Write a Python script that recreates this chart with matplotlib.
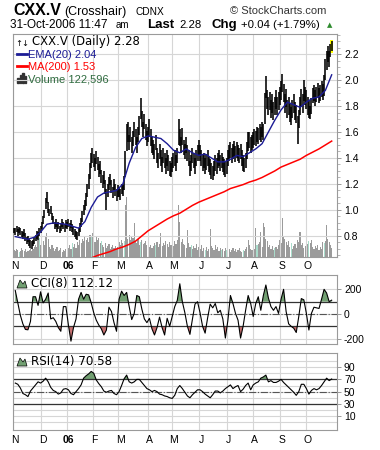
import numpy as np
import pandas as pd
import matplotlib
matplotlib.use('Agg')
import matplotlib.pyplot as plt
from matplotlib.patches import Rectangle, Polygon
from matplotlib.lines import Line2D
from matplotlib.transforms import blended_transform_factory

plt.rcParams['font.family'] = ['Liberation Sans', 'DejaVu Sans']

# sessions shown on the chart (exchange holidays removed)
holidays = ['2005-12-26', '2005-12-27', '2006-01-02', '2006-04-14', '2006-05-22',
            '2006-07-03', '2006-08-07', '2006-09-04', '2006-10-09']
days = pd.bdate_range('2005-11-01', '2006-10-31', freq='C', holidays=holidays)

# daily high / low, one row per month
highs = [
    0.86, 0.86, 0.88, 0.85, 0.87, 0.86, 0.84, 0.83, 0.85, 0.82, 0.79, 0.80, 0.78, 0.77, 0.76, 0.77, 0.79, 0.81, 0.84, 0.83, 0.86, 0.88,
    0.91, 0.95, 1.00, 1.09, 1.14, 1.06, 1.01, 1.03, 0.98, 0.95, 0.91, 0.93, 0.89, 0.91, 0.88, 0.90, 0.93, 0.91, 0.89, 0.92,
    0.91, 0.93, 0.90, 0.92, 0.89, 0.87, 0.85, 0.84, 0.83, 0.86, 0.90, 0.94, 0.99, 1.04, 1.08, 1.13, 1.20, 1.28, 1.36, 1.44, 1.48,
    1.43, 1.40, 1.45, 1.41, 1.35, 1.38, 1.31, 1.27, 1.30, 1.23, 1.16, 1.20, 1.25, 1.28, 1.23, 1.18, 1.24, 1.20, 1.16, 1.19,
    1.18, 1.16, 1.20, 1.19, 1.26, 1.45, 1.66, 1.68, 1.58, 1.64, 1.56, 1.61, 1.68, 1.62, 1.56, 1.64, 1.72, 1.86, 1.76, 1.68, 1.74, 1.66, 1.61,
    1.64, 1.70, 1.62, 1.56, 1.54, 1.51, 1.58, 1.48, 1.44, 1.51, 1.46, 1.41, 1.48, 1.44, 1.40, 1.46, 1.42, 1.38, 1.36,
    1.41, 1.44, 1.46, 1.42, 1.48, 1.70, 1.62, 1.56, 1.63, 1.54, 1.51, 1.56, 1.50, 1.46, 1.38, 1.42, 1.48, 1.44, 1.40, 1.46, 1.50, 1.54,
    1.50, 1.46, 1.42, 1.44, 1.40, 1.43, 1.46, 1.41, 1.39, 1.36, 1.34, 1.38, 1.42, 1.40, 1.44, 1.46, 1.42, 1.44, 1.41, 1.39, 1.37, 1.40,
    1.46, 1.50, 1.52, 1.48, 1.51, 1.53, 1.49, 1.52, 1.50, 1.48, 1.51, 1.46, 1.42, 1.40, 1.44, 1.52, 1.60, 1.60, 1.56, 1.58,
    1.60, 1.62, 1.61, 1.64, 1.63, 1.66, 1.64, 1.68, 1.66, 1.90, 2.03, 1.92, 1.87, 1.91, 1.85, 1.89, 1.83, 1.87, 1.92, 1.87, 1.91, 1.95,
    1.99, 2.05, 1.97, 1.89, 1.93, 1.85, 1.87, 1.82, 1.79, 1.85, 1.89, 1.83, 1.81, 1.72, 1.77, 1.87, 1.93, 1.89, 2.00, 1.95,
    1.92, 1.87, 1.85, 1.80, 1.86, 1.94, 1.96, 1.92, 1.95, 1.98, 1.94, 1.96, 1.99, 1.97, 2.04, 2.16, 2.22, 2.26, 2.22, 2.28, 2.30,
]
lows = [
    0.82, 0.81, 0.83, 0.80, 0.82, 0.81, 0.79, 0.78, 0.80, 0.76, 0.74, 0.75, 0.72, 0.71, 0.70, 0.72, 0.74, 0.76, 0.78, 0.77, 0.80, 0.82,
    0.85, 0.89, 0.94, 1.01, 1.05, 0.98, 0.95, 0.97, 0.92, 0.89, 0.85, 0.87, 0.83, 0.85, 0.82, 0.84, 0.87, 0.85, 0.83, 0.86,
    0.85, 0.87, 0.84, 0.86, 0.83, 0.81, 0.79, 0.78, 0.77, 0.80, 0.83, 0.87, 0.91, 0.96, 1.00, 1.03, 1.10, 1.16, 1.24, 1.32, 1.36,
    1.33, 1.30, 1.35, 1.31, 1.25, 1.28, 1.21, 1.17, 1.20, 1.12, 1.00, 1.10, 1.15, 1.19, 1.13, 1.09, 1.15, 1.11, 1.07, 1.10,
    1.10, 1.08, 1.12, 1.11, 1.15, 1.25, 1.45, 1.52, 1.46, 1.52, 1.44, 1.49, 1.56, 1.50, 1.44, 1.52, 1.58, 1.70, 1.64, 1.56, 1.62, 1.54, 1.49,
    1.52, 1.56, 1.49, 1.44, 1.42, 1.39, 1.46, 1.36, 1.32, 1.39, 1.34, 1.29, 1.36, 1.32, 1.28, 1.34, 1.30, 1.26, 1.25,
    1.29, 1.32, 1.34, 1.30, 1.36, 1.50, 1.49, 1.44, 1.50, 1.42, 1.39, 1.44, 1.38, 1.34, 1.26, 1.30, 1.36, 1.32, 1.28, 1.34, 1.38, 1.42,
    1.38, 1.34, 1.30, 1.32, 1.28, 1.31, 1.34, 1.29, 1.27, 1.24, 1.23, 1.26, 1.30, 1.28, 1.32, 1.34, 1.30, 1.32, 1.29, 1.27, 1.25, 1.28,
    1.34, 1.38, 1.40, 1.36, 1.39, 1.41, 1.37, 1.40, 1.38, 1.36, 1.39, 1.34, 1.30, 1.29, 1.32, 1.39, 1.45, 1.48, 1.44, 1.46,
    1.48, 1.50, 1.49, 1.52, 1.51, 1.54, 1.52, 1.56, 1.54, 1.66, 1.86, 1.78, 1.73, 1.77, 1.71, 1.75, 1.69, 1.73, 1.78, 1.73, 1.77, 1.81,
    1.85, 1.91, 1.83, 1.75, 1.79, 1.71, 1.73, 1.68, 1.65, 1.71, 1.75, 1.69, 1.67, 1.51, 1.63, 1.73, 1.79, 1.75, 1.84, 1.81,
    1.78, 1.73, 1.71, 1.70, 1.74, 1.82, 1.84, 1.80, 1.83, 1.86, 1.82, 1.84, 1.87, 1.85, 1.88, 2.00, 2.08, 2.14, 2.10, 2.18, 2.22,
]
# volume in thousands of shares
volume = [
    95, 80, 110, 95, 70, 80, 120, 95, 80, 110, 70, 80, 95, 120, 80, 110, 135, 165, 135, 230, 260, 165,
    190, 220, 165, 270, 330, 245, 135, 110, 165, 120, 80, 110, 135, 80, 95, 120, 70, 95, 80, 110,
    95, 120, 165, 110, 190, 135, 175, 120, 205, 165, 230, 190, 245, 220, 270, 230, 260, 205, 300, 270, 330,
    245, 205, 270, 230, 260, 190, 220, 165, 135, 190, 120, 150, 175, 110, 135, 165, 120, 150, 110, 135,
    205, 165, 230, 190, 220, 705, 815, 245, 300, 230, 270, 260, 460, 220, 190, 245, 165, 205, 230, 175, 190, 220, 165,
    175, 135, 165, 120, 150, 190, 165, 205, 135, 175, 330, 150, 190, 165, 220, 175, 135, 205, 165,
    190, 150, 220, 175, 230, 705, 475, 205, 245, 175, 165, 120, 365, 190, 135, 165, 110, 150, 120, 175, 95, 135,
    110, 165, 80, 120, 95, 135, 80, 110, 380, 150, 120, 95, 165, 110, 135, 80, 120, 95, 110, 80, 120, 95,
    80, 110, 70, 95, 120, 80, 110, 70, 95, 120, 80, 70, 95, 80, 110, 135, 230, 165, 110, 95,
    120, 110, 395, 165, 175, 205, 340, 135, 460, 410, 245, 220, 135, 165, 110, 150, 95, 120, 135, 110, 165, 230,
    190, 530, 270, 245, 205, 165, 220, 135, 190, 110, 150, 175, 120, 230, 205, 340, 165, 190, 120, 150,
    205, 175, 220, 190, 230, 135, 110, 150, 120, 165, 95, 135, 110, 205, 190, 220, 435, 245, 205, 165, 122.6,
]
teal_days = [4, 20, 46, 61, 69, 87, 100, 112, 140, 151, 164, 168, 181, 192, 206, 219, 233, 245]

# EMA(20), read every 5th session starting at the 2nd one
ema20 = [0.795, 0.785, 0.775, 0.79, 0.83, 0.89, 0.90, 0.895, 0.89, 0.875,
         0.86, 0.91, 1.02, 1.10, 1.13, 1.14, 1.15, 1.20, 1.36, 1.48,
         1.55, 1.57, 1.56, 1.55, 1.51, 1.46, 1.44, 1.47, 1.44, 1.42,
         1.43, 1.40, 1.37, 1.37, 1.39, 1.42, 1.41, 1.44, 1.47, 1.51,
         1.60, 1.69, 1.77, 1.83, 1.81, 1.79, 1.83, 1.86, 1.87, 1.92,
         2.04]
# MA(200), every 5th session from late January
ma200 = [0.63, 0.65, 0.665, 0.68, 0.70, 0.715, 0.735, 0.76, 0.80, 0.84,
         0.87, 0.90, 0.93, 0.955, 0.975, 1.005, 1.035, 1.06, 1.08, 1.10,
         1.12, 1.14, 1.165, 1.18, 1.195, 1.215, 1.23, 1.25, 1.275, 1.30,
         1.33, 1.35, 1.37, 1.39, 1.42, 1.445, 1.47, 1.50, 1.53]
# oscillators, every 2nd session
cci8 = [190, 90, -10, -80, -125, -128, -60, 140, 140, 70,
        180, 90, 120, 170, -40, -30, -60, -110, -140, 60,
        60, -90, -220, -110, -40, 120, 175, 120, 160, 155,
        90, 10, -50, -90, -120, -170, -130, 55, 20, -70,
        -140, 120, 185, 150, 175, 60, -45, 5, 150, 140,
        40, -40, -70, -35, -120, -170, -110, -25, -110, -170,
        -35, -100, -20, 60, 110, 245, 100, 10, -100, -165,
        -40, 80, 100, 10, -100, -155, -30, 80, 50, 85,
        10, 30, -40, -195, -50, 150, 85, 5, -50, -195,
        -100, 30, 150, 85, -20, 85, 140, 30, 150, 235,
        130, 60, 30, 60, 5, 120, 200, 20, -80, -100,
        -115, -150, -20, 125, 115, 5, -130, 5, 55, 50,
        45, 120, 200, 170, 100, 112.12]
rsi14 = [64, 62, 56, 47, 45, 42, 51, 56, 61, 66,
         64, 67, 72, 66, 57, 52, 50, 46, 48, 54,
         55, 53, 47, 45, 50, 55, 61, 72, 76, 79,
         83, 80, 69, 63, 58, 51, 49, 51, 52, 47,
         45, 50, 60, 71, 77, 66, 64, 66, 70, 70,
         65, 60, 55, 53, 50, 52, 50, 46, 45, 43,
         42, 40, 39, 44, 55, 60, 55, 49, 43, 40,
         45, 49, 53, 53, 50, 46, 43, 40, 45, 51,
         51, 48, 51, 55, 58, 61, 55, 58, 60, 50,
         54, 60, 64, 53, 61, 64, 66, 72, 74, 77,
         66, 68, 65, 65, 67, 70, 65, 61, 57, 53,
         49, 44, 50, 62, 62, 55, 46, 52, 55, 53,
         55, 60, 66, 72, 68, 70.58]

n = len(days)
assert len(highs) == n and len(lows) == n and len(volume) == n
x = np.arange(n)
ema_x = x[1::5]
ma_x = x[61::5]
osc_x = x[1::2]
assert len(ema20) == len(ema_x) and len(ma200) == len(ma_x)
assert len(cci8) == len(osc_x) and len(rsi14) == len(osc_x)
cci = np.array(cci8, dtype=float)
rsi = np.array(rsi14, dtype=float)

new_month = np.r_[True, days.month[1:] != days.month[:-1]]
month_start = np.flatnonzero(new_month)
month_lbl = ['06' if d.month == 1 else d.strftime('%b')[0] for d in days[month_start]]

W, H = 380, 450
def rect(x0, y0, x1, y1):
    return [x0 / W, 1 - y1 / H, (x1 - x0) / W, (y1 - y0) / H]
def fx(px):
    return px / W
def fy(py):
    return 1 - py / H

GRID = '#d6d6d6'
EDGE = '#9a9a9a'
NAVY = '#1c1c96'
LEG = ['DejaVu Sans']
XLIM = (-0.8, 255.2)

fig = plt.figure(figsize=(3.8, 4.5), dpi=100)

def style(a, ticks, labels, ylim):
    a.set_xlim(*XLIM)
    a.set_ylim(*ylim)
    a.set_xticks(month_start - 0.5)
    a.set_xticklabels([])
    a.tick_params(axis='x', length=0)
    a.yaxis.tick_right()
    a.set_yticks(ticks)
    a.set_yticklabels(labels)
    a.tick_params(axis='y', length=3, width=0.7, pad=2, labelsize=7.5,
                  color=EDGE, labelcolor='black')
    a.grid(color=GRID, lw=0.8)
    a.set_axisbelow(True)
    for s in a.spines.values():
        s.set_color(EDGE)
        s.set_linewidth(0.8)

# ---- price panel
ax = fig.add_axes(rect(13, 33.5, 337, 257))
vax = ax.twinx()
ax.set_zorder(vax.get_zorder() + 1)
ax.patch.set_visible(False)
vcol = ['#a9dccb' if i in teal_days else '#9b9b9b' for i in x]
vax.bar(x, volume, width=0.9, color=vcol, linewidth=0)
vax.set_ylim(0, 3050)
vax.set_yticks([])
for s in vax.spines.values():
    s.set_visible(False)

pt = [0.8, 1.0, 1.2, 1.4, 1.6, 1.8, 2.0, 2.2]
style(ax, pt, ['%.1f' % v for v in pt], (0.638, 2.358))
ax.set_yticks(np.arange(0.65, 2.36, 0.05), minor=True)
ax.tick_params(axis='y', which='minor', length=2, width=0.5, color=EDGE)
ax.add_patch(Rectangle((n - 1 - 1.3, lows[-1] - 0.01), 2.6, highs[-1] - lows[-1] + 0.02,
                       facecolor='#ffff00', edgecolor='none', zorder=2))
ax.vlines(x, lows, highs, color='black', lw=1.15, zorder=3)
ax.plot(ema_x, ema20, color=NAVY, lw=1.0, zorder=4)
ax.plot(ma_x, ma200, color='#ff0000', lw=1.1, zorder=4)

# ---- CCI panel
cax = fig.add_axes(rect(13, 275, 337, 344))
style(cax, [-200, 0, 200], ['-200', '0', '200'], (-243, 316))
cax.fill_between(osc_x, cci, 100, where=cci > 100, interpolate=True, color='#72a072', lw=0)
cax.fill_between(osc_x, cci, -100, where=cci < -100, interpolate=True, color='#c87272', lw=0)
cax.axhline(100, color='#333333', lw=0.9)
cax.axhline(-100, color='#333333', lw=0.9)
cax.axhline(0, color='#555555', lw=0.8, ls='-.')
cax.plot(osc_x, cci, color='black', lw=0.8)

# ---- RSI panel
rax = fig.add_axes(rect(13, 353, 337, 430))
style(rax, [10, 30, 50, 70, 90], ['10', '30', '50', '70', '90'], (-12.5, 113))
rax.set_yticks(np.arange(0, 101, 10), minor=True)
rax.tick_params(axis='y', which='minor', length=0)
rax.grid(which='minor', axis='y', color=GRID, lw=0.8)
rax.fill_between(osc_x, rsi, 70, where=rsi > 70, interpolate=True, color='#72a072', lw=0)
rax.fill_between(osc_x, rsi, 30, where=rsi < 30, interpolate=True, color='#c87272', lw=0)
rax.axhline(70, color='#333333', lw=0.9)
rax.axhline(30, color='#333333', lw=0.9)
rax.axhline(50, color='#555555', lw=0.8, ls='-.')
rax.plot(osc_x, rsi, color='black', lw=0.8)

# month labels under the price panel and under the RSI panel
for a, row in ((ax, 266), (rax, 440)):
    tr = blended_transform_factory(a.transData, fig.transFigure)
    for m, lab in zip(month_start, month_lbl):
        a.text(m + 0.8, fy(row), lab, transform=tr, ha='center', va='center',
               fontsize=7.5, fontweight='bold' if lab == '06' else 'normal')

# ---- header
fig.text(fx(13), fy(15), 'CXX.V', fontsize=11.5, fontweight='bold', va='baseline')
fig.text(fx(64), fy(15), '(Crosshair)', fontsize=9, va='baseline')
fig.text(fx(136), fy(15), 'CDNX', fontsize=7.3, va='baseline')
fig.text(fx(230), fy(14), '\u00a9 StockCharts.com', fontsize=8, color='#333333', va='baseline')
fig.text(fx(10), fy(28), '31-Oct-2006 11:47', fontsize=8.5, va='baseline')
fig.text(fx(116), fy(28), 'am', fontsize=7, va='baseline')
fig.text(fx(147), fy(28), 'Last', fontsize=9.5, fontweight='bold', va='baseline')
fig.text(fx(179), fy(28), '2.28', fontsize=8.2, va='baseline')
fig.text(fx(212), fy(28), 'Chg', fontsize=9.5, fontweight='bold', va='baseline')
fig.text(fx(241), fy(28), '+0.04 (+1.79%)', fontsize=8.2, va='baseline')
fig.text(fx(327), fy(27), '\u25b2', fontsize=5, color='#2e8b2e', va='baseline',
         family=['DejaVu Sans'])

# ---- in-panel legends
fig.text(fx(15), fy(45.5), '\u2191\u2193', fontsize=6, va='baseline', family=['DejaVu Sans'])
fig.text(fx(32), fy(45.5), 'CXX.V (Daily) 2.28', fontsize=8.4, va='baseline', family=LEG)
fig.add_artist(Line2D([fx(17), fx(27)], [fy(54), fy(54)], color=NAVY, lw=2))
fig.text(fx(28), fy(57.5), 'EMA(20) 2.04', fontsize=8, color=NAVY, va='baseline')
fig.add_artist(Line2D([fx(17), fx(27)], [fy(66), fy(66)], color='#ff0000', lw=2))
fig.text(fx(28), fy(69.5), 'MA(200) 1.53', fontsize=8, color='#ff0000', va='baseline')
for bx, bh in ((17, 5), (19.5, 8), (22, 10), (24.5, 7)):
    fig.add_artist(Rectangle((fx(bx), fy(83)), 1.8 / W, bh / H, color='#333333',
                             transform=fig.transFigure))
fig.text(fx(28), fy(83), 'Volume 122,596', fontsize=8, color='#2f6b3f', va='baseline')

def mountain(ytop):
    pts = [(17, ytop + 8), (20, ytop), (23, ytop + 4), (25, ytop + 1), (27, ytop + 8)]
    fig.add_artist(Polygon([(fx(a), fy(b)) for a, b in pts], closed=True,
                           facecolor='#72a072', edgecolor='black', lw=0.5,
                           transform=fig.transFigure))

mountain(280)
fig.text(fx(31), fy(287), 'CCI(8) 112.12', fontsize=8.6, va='baseline', family=LEG)
mountain(358)
fig.text(fx(31), fy(365), 'RSI(14) 70.58', fontsize=8.6, va='baseline', family=LEG)

fig.savefig('out.png', dpi=100)
